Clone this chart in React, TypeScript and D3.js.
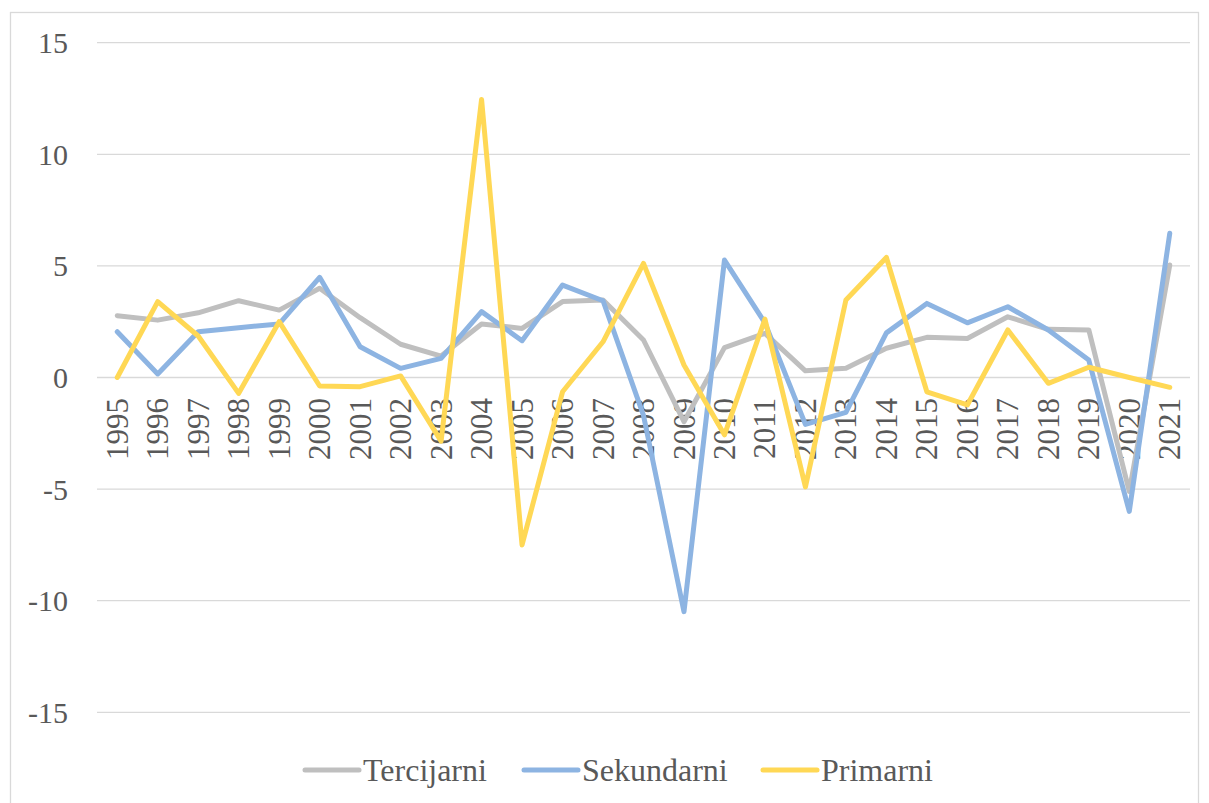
import React from "react";
import * as d3 from "d3";

const years = ["1995","1996","1997","1998","1999","2000","2001","2002","2003","2004","2005","2006","2007","2008","2009","2010","2011","2012","2013","2014","2015","2016","2017","2018","2019","2020","2021"];
const tercijarni = [2.77, 2.57, 2.9, 3.44, 3.02, 4.0, 2.68, 1.49, 0.96, 2.4, 2.2, 3.4, 3.47, 1.68, -1.98, 1.34, 1.98, 0.3, 0.41, 1.31, 1.8, 1.75, 2.72, 2.16, 2.13, -5.1, 5.04];
const sekundarni = [2.05, 0.16, 2.05, 2.23, 2.4, 4.49, 1.38, 0.41, 0.86, 2.95, 1.65, 4.14, 3.44, -1.7, -10.49, 5.26, 2.45, -2.1, -1.56, 2.0, 3.32, 2.45, 3.17, 2.13, 0.78, -6.0, 6.46];
const primarni = [0, 3.4, 1.86, -0.71, 2.5, -0.38, -0.41, 0.07, -2.85, 12.46, -7.5, -0.64, 1.6, 5.11, 0.56, -2.57, 2.62, -4.9, 3.47, 5.38, -0.64, -1.23, 2.13, -0.26, 0.46, 0.0, -0.44];
const yTicks = [-15, -10, -5, 0, 5, 10, 15];

const seriesList = [
  { name: "Tercijarni", values: tercijarni, color: "#bfbfbf" },
  { name: "Sekundarni", values: sekundarni, color: "#8db4e2" },
  { name: "Primarni", values: primarni, color: "#ffd855" },
];

const W = 1209;
const H = 803;
const FONT = "'Liberation Serif', 'Times New Roman', serif";
const TEXT = "#595959";
const textStyle = { fontFamily: FONT };

export default function App() {
  const x = d3.scaleBand<string>().domain(years).range([97, 1190]).padding(0);
  const y = d3.scaleLinear().domain([-15, 15]).range([712.3, 42.7]);
  const cx = (yr: string) => (x(yr) as number) + x.bandwidth() / 2;

  const line = d3
    .line<number>()
    .x((_, i) => cx(years[i]))
    .y((v) => y(v));

  const legendItems = [
    { lx: 305, tx: 363 },
    { lx: 524, tx: 582 },
    { lx: 763, tx: 821 },
  ];

  return (
    <svg
      width={W}
      height={H}
      style={{ position: "absolute", left: 0, top: 0, background: "#fff" }}
    >
      <rect x={10.5} y={12.5} width={1188} height={810} fill="#fff" stroke="#d9d9d9" strokeWidth={1.3} />
      {yTicks.map((t) => (
        <g key={t}>
          <line x1={97} x2={1190} y1={y(t)} y2={y(t)} stroke="#d9d9d9" strokeWidth={1.3} />
          <text x={68} y={y(t)} dy="0.35em" textAnchor="end" fontSize={30} fill={TEXT} style={textStyle}>
            {t}
          </text>
        </g>
      ))}
      {years.map((yr) => (
        <text
          key={yr}
          transform={`translate(${cx(yr)},398) rotate(-90)`}
          dy="0.34em"
          textAnchor="end"
          fontSize={31}
          fill={TEXT}
          style={textStyle}
        >
          {yr}
        </text>
      ))}
      {seriesList.map((s) => (
        <path
          key={s.name}
          d={line(s.values) as string}
          fill="none"
          stroke={s.color}
          strokeWidth={5}
          strokeLinejoin="round"
          strokeLinecap="round"
        />
      ))}
      {seriesList.map((s, i) => (
        <g key={s.name}>
          <line
            x1={legendItems[i].lx}
            x2={legendItems[i].lx + 54}
            y1={770}
            y2={770}
            stroke={s.color}
            strokeWidth={5}
            strokeLinecap="round"
          />
          <text x={legendItems[i].tx} y={781} fontSize={32} fill={TEXT} style={textStyle}>
            {s.name}
          </text>
        </g>
      ))}
    </svg>
  );
}
